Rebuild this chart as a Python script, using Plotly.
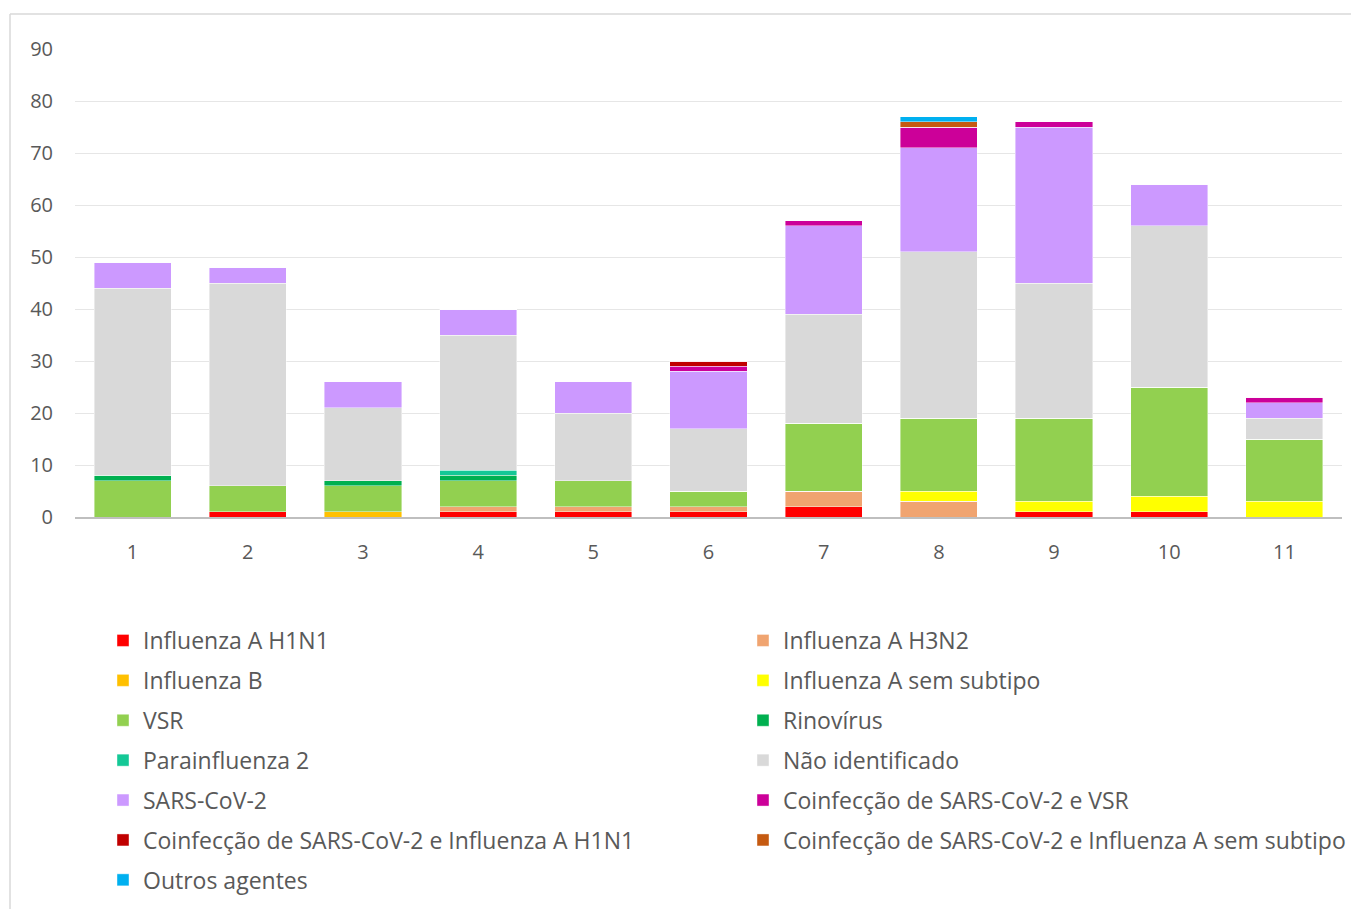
import plotly.graph_objects as go

weeks = ["1", "2", "3", "4", "5", "6", "7", "8", "9", "10", "11"]

h1n1        = [0, 1, 0, 1, 1, 1, 2, 0, 1, 1, 0]
h3n2        = [0, 0, 0, 1, 1, 1, 3, 3, 0, 0, 0]
flu_b       = [0, 0, 1, 0, 0, 0, 0, 0, 0, 0, 0]
flu_a_sem   = [0, 0, 0, 0, 0, 0, 0, 2, 2, 3, 3]
vsr         = [7, 5, 5, 5, 5, 3, 13, 14, 16, 21, 12]
rinovirus   = [1, 0, 1, 1, 0, 0, 0, 0, 0, 0, 0]
parainf2    = [0, 0, 0, 1, 0, 0, 0, 0, 0, 0, 0]
nao_ident   = [36, 39, 14, 26, 13, 12, 21, 32, 26, 31, 4]
sars_cov2   = [5, 3, 5, 5, 6, 11, 17, 20, 30, 8, 3]
coinf_vsr   = [0, 0, 0, 0, 0, 1, 1, 4, 1, 0, 1]
coinf_h1n1  = [0, 0, 0, 0, 0, 1, 0, 0, 0, 0, 0]
coinf_sem   = [0, 0, 0, 0, 0, 0, 0, 1, 0, 0, 0]
outros      = [0, 0, 0, 0, 0, 0, 0, 1, 0, 0, 0]

series = [
    ("Influenza A H1N1", h1n1, "#FF0000"),
    ("Influenza A H3N2", h3n2, "#F0A470"),
    ("Influenza B", flu_b, "#FFC000"),
    ("Influenza A sem subtipo", flu_a_sem, "#FFFF00"),
    ("VSR", vsr, "#92D050"),
    ("Rinovírus", rinovirus, "#00B050"),
    ("Parainfluenza 2", parainf2, "#14C896"),
    ("Não identificado", nao_ident, "#D9D9D9"),
    ("SARS-CoV-2", sars_cov2, "#CC99FF"),
    ("Coinfecção de SARS-CoV-2 e VSR", coinf_vsr, "#CC0099"),
    ("Coinfecção de SARS-CoV-2 e Influenza A H1N1", coinf_h1n1, "#C00000"),
    ("Coinfecção de SARS-CoV-2 e Influenza A sem subtipo", coinf_sem, "#C55A11"),
    ("Outros agentes", outros, "#00B0F0"),
]

fig = go.Figure()
for i, (name, vals, color) in enumerate(series):
    fig.add_trace(go.Bar(
        x=weeks, y=vals, name=name,
        legend="legend" if i % 2 == 0 else "legend2",
        legendgroup=name,
        marker=dict(color=color, line=dict(color="rgba(255,255,255,0.6)", width=0.7)),
    ))

font_family = "Open Sans, Noto Sans, sans-serif"
W, H = 1359, 909
OFF = 8  # page body margin offset
L, R, T, B = 75 - OFF, 25, 49 - OFF, 909 - (517 - OFF)
pw, ph = W - L - R, H - T - B


def px_x(x):
    # x given in screenshot pixels
    return (x - OFF - L) / pw


def px_y(y):
    # y given in screenshot pixels
    return (H - B - (y - OFF)) / ph


legend_common = dict(
    orientation="v",
    yanchor="top",
    y=px_y(619),
    font=dict(size=23, color="#595959", family=font_family),
    traceorder="grouped",
    tracegroupgap=7,
    itemwidth=30,
    bgcolor="rgba(0,0,0,0)",
)

fig.update_layout(
    barmode="stack",
    bargap=0.33,
    width=W, height=H,
    margin=dict(l=L, r=R, t=T, b=B, autoexpand=False),
    plot_bgcolor="white",
    paper_bgcolor="white",
    font=dict(family=font_family, color="#595959", size=18),
    xaxis=dict(
        showgrid=False,
        showline=True, linecolor="#BFBFBF", linewidth=1.5,
        ticks="", tickfont=dict(size=20, color="#595959"),
        ticklabelstandoff=16,
    ),
    yaxis=dict(
        range=[0, 90], dtick=10,
        showgrid=True, gridcolor="#E6E6E6", gridwidth=1,
        zeroline=False, showline=False, ticks="",
        tickfont=dict(size=20, color="#595959"),
        ticklabelstandoff=21,
    ),
    legend=dict(x=px_x(103), xanchor="left", **legend_common),
    legend2=dict(x=px_x(743), xanchor="left", **legend_common),
    showlegend=True,
)

# outer chart border (left and top edges visible)
fig.add_shape(type="line", xref="paper", yref="paper",
              x0=px_x(10), x1=px_x(1400),
              y0=px_y(14), y1=px_y(14),
              line=dict(color="#D9D9D9", width=1.5))
fig.add_shape(type="line", xref="paper", yref="paper",
              x0=px_x(10), x1=px_x(10),
              y0=px_y(14), y1=px_y(950),
              line=dict(color="#D9D9D9", width=1.5))

fig.write_html("out.html")
